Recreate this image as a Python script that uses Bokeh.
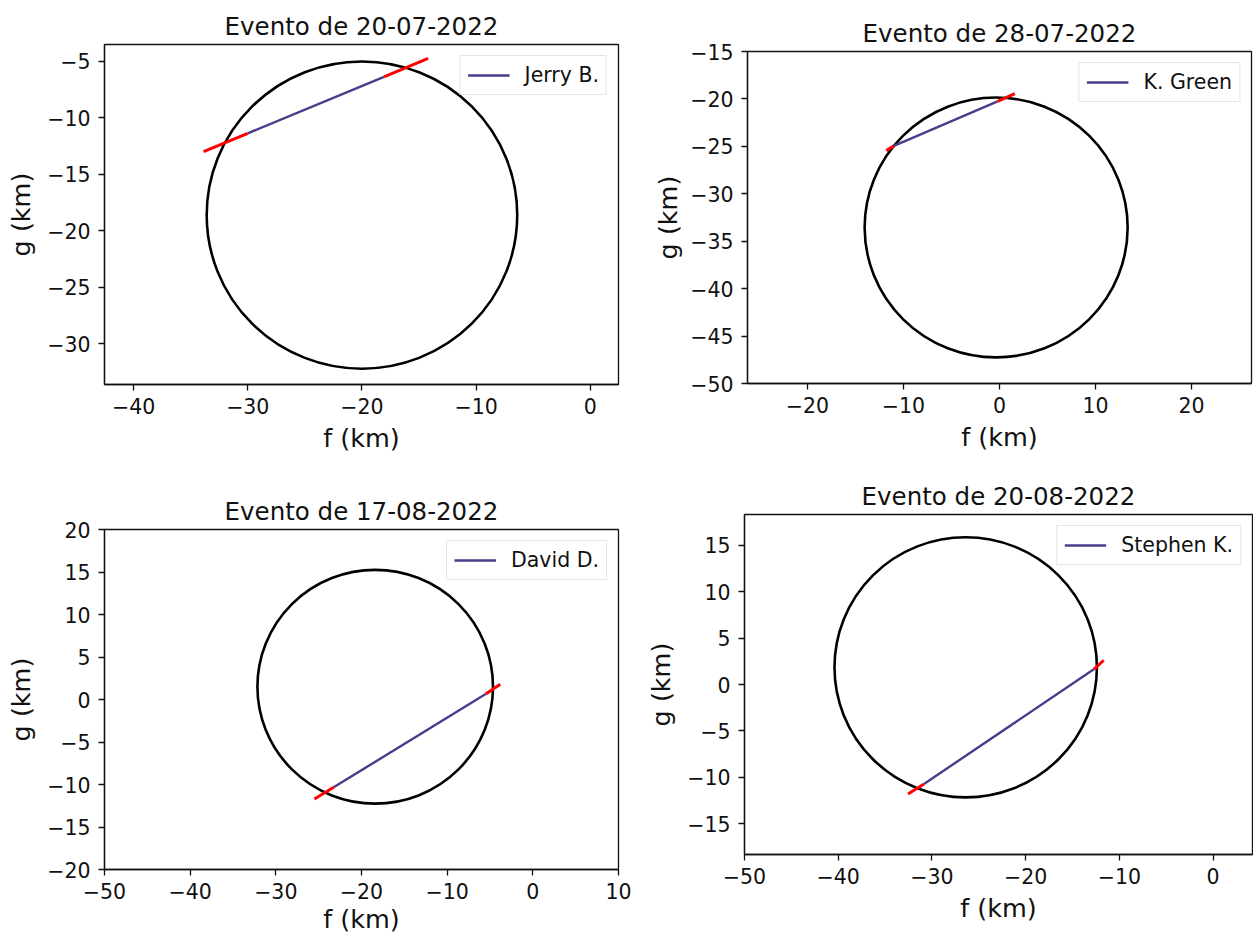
from bokeh.plotting import figure
from bokeh.layouts import row, column
from bokeh.models import FixedTicker, Range1d, Legend, LegendItem
from bokeh.embed import file_html
from bokeh.resources import INLINE

# --- occultation events -------------------------------------------------
titles = ["Evento de 20-07-2022", "Evento de 28-07-2022",
          "Evento de 17-08-2022", "Evento de 20-08-2022"]
observers = ["Jerry B.", "K. Green", "David D.", "Stephen K."]

# fitted limb: centre (f, g) and radius, km
limb_f0 = [-20.0, -0.35, -18.4, -26.4]
limb_g0 = [-18.6, -33.55, 1.5, 1.85]
limb_r = [13.6, 13.7, 13.75, 14.0]

# observed chord (km)
chord_f1 = [-30.0, -11.0, -23.2, -30.85]
chord_g1 = [-11.36, -24.95, -10.3, -10.71]
chord_f2 = [-18.07, -0.2, -5.5, -12.73]
chord_g2 = [-6.36, -20.25, 0.65, 1.64]

# chord extent including timing uncertainty (km)
err_f1 = [-33.87, -11.8, -25.5, -32.55]
err_g1 = [-12.98, -25.45, -11.7, -11.78]
err_f2 = [-14.2, 1.6, -3.8, -11.67]
err_g2 = [-4.73, -19.45, 1.8, 2.61]

# axis limits and ticks
x_limits = [(-42.55, 2.47), (-26.25, 26.25), (-50, 10), (-50, 4.2)]
y_limits = [(-33.6, -3.5), (-50, -15), (-20, 20), (-18.3, 18.3)]
x_ticks = [[-40, -30, -20, -10, 0],
           [-20, -10, 0, 10, 20],
           [-50, -40, -30, -20, -10, 0, 10],
           [-50, -40, -30, -20, -10, 0]]
y_ticks = [[-30, -25, -20, -15, -10, -5],
           [-50, -45, -40, -35, -30, -25, -20, -15],
           [-20, -15, -10, -5, 0, 5, 10, 15, 20],
           [-15, -10, -5, 0, 5, 10, 15]]

# --- panel geometry (px): width, height, borders left/right/top/bottom,
#     and the gaps before the x and y axis titles ---
panel_geom = [
    dict(w=638, h=470, l=104, r=20, t=44, b=86, xlab=6, ylab=8),
    dict(w=615, h=470, l=109, r=2, t=51, b=87, xlab=6, ylab=4),
    dict(w=640, h=470, l=104, r=22, t=59, b=71, xlab=2, ylab=8),
    dict(w=613, h=470, l=104, r=1, t=44, b=86, xlab=6, ylab=8),
]
PAGE_W, PAGE_H = 1253, 935

FONT = "DejaVu Sans"
INK = "#111111"
CHORD_COLOR = "#483D8B"


def tick_text(v):
    return f"{v:g}".replace("-", "\u2212")


def make_panel(i):
    g = panel_geom[i]
    x0, x1 = x_limits[i]
    y0, y1 = y_limits[i]
    p = figure(width=g["w"], height=g["h"], title=titles[i],
               x_range=Range1d(x0, x1), y_range=Range1d(y0, y1),
               output_backend="svg", toolbar_location=None,
               frame_align=False,
               min_border_left=g["l"], min_border_right=g["r"],
               min_border_top=g["t"], min_border_bottom=g["b"])
    p.background_fill_color = "white"
    p.border_fill_color = "white"
    p.grid.visible = False
    p.outline_line_color = INK
    p.outline_line_width = 1.3

    p.title.align = "center"
    p.title.text_font = FONT
    p.title.text_font_size = "24.5px"
    p.title.text_font_style = "normal"
    p.title.text_color = INK
    p.title.standoff = 8

    p.xaxis.axis_label = "f (km)"
    p.yaxis.axis_label = "g (km)"
    p.xaxis.ticker = FixedTicker(ticks=x_ticks[i])
    p.yaxis.ticker = FixedTicker(ticks=y_ticks[i])
    p.xaxis.major_label_overrides = {v: tick_text(v) for v in x_ticks[i]}
    p.yaxis.major_label_overrides = {v: tick_text(v) for v in y_ticks[i]}
    for ax in (p.xaxis, p.yaxis):
        ax.axis_line_color = INK
        ax.axis_line_width = 1.3
        ax.major_tick_line_color = INK
        ax.major_tick_line_width = 1.3
        ax.major_tick_out = 6
        ax.major_tick_in = 0
        ax.minor_tick_out = 0
        ax.minor_tick_in = 0
        ax.major_label_text_font = FONT
        ax.major_label_text_font_size = "20.5px"
        ax.major_label_text_color = INK
        ax.axis_label_text_font = FONT
        ax.axis_label_text_font_size = "25.5px"
        ax.axis_label_text_font_style = "normal"
        ax.axis_label_text_color = INK
    p.xaxis.major_label_standoff = 7
    p.xaxis.axis_label_standoff = g["xlab"]
    p.yaxis.major_label_standoff = 8
    p.yaxis.axis_label_standoff = g["ylab"]

    # fitted limb
    p.ellipse(x=[limb_f0[i]], y=[limb_g0[i]],
              width=[2 * limb_r[i]], height=[2 * limb_r[i]],
              fill_color=None, line_color="black", line_width=2.6)
    # uncertainty at both chord ends
    p.segment(x0=[err_f1[i], chord_f2[i]], y0=[err_g1[i], chord_g2[i]],
              x1=[chord_f1[i], err_f2[i]], y1=[chord_g1[i], err_g2[i]],
              line_color="red", line_width=3)
    # the chord
    chord = p.line([chord_f1[i], chord_f2[i]], [chord_g1[i], chord_g2[i]],
                   line_color=CHORD_COLOR, line_width=2.4)

    legend = Legend(items=[LegendItem(label=observers[i], renderers=[chord])],
                    location="top_right")
    legend.label_text_font = FONT
    legend.label_text_font_size = "20.5px"
    legend.label_text_color = INK
    legend.glyph_width = 42
    legend.glyph_height = 18
    legend.label_standoff = 15
    legend.padding = 7
    legend.margin = 11
    legend.spacing = 0
    legend.border_line_color = "#cccccc"
    legend.border_line_width = 1
    legend.background_fill_alpha = 0.8
    p.add_layout(legend)
    return p


panels = [make_panel(i) for i in range(4)]
# the lower panels run a few pixels past the page; the page itself is clipped
layout = column(row(panels[0], panels[1]), row(panels[2], panels[3]),
                width=PAGE_W, height=PAGE_H, sizing_mode="fixed",
                styles={"overflow": "hidden"})

with open("out.html", "w") as fh:
    fh.write(file_html(layout, INLINE))
